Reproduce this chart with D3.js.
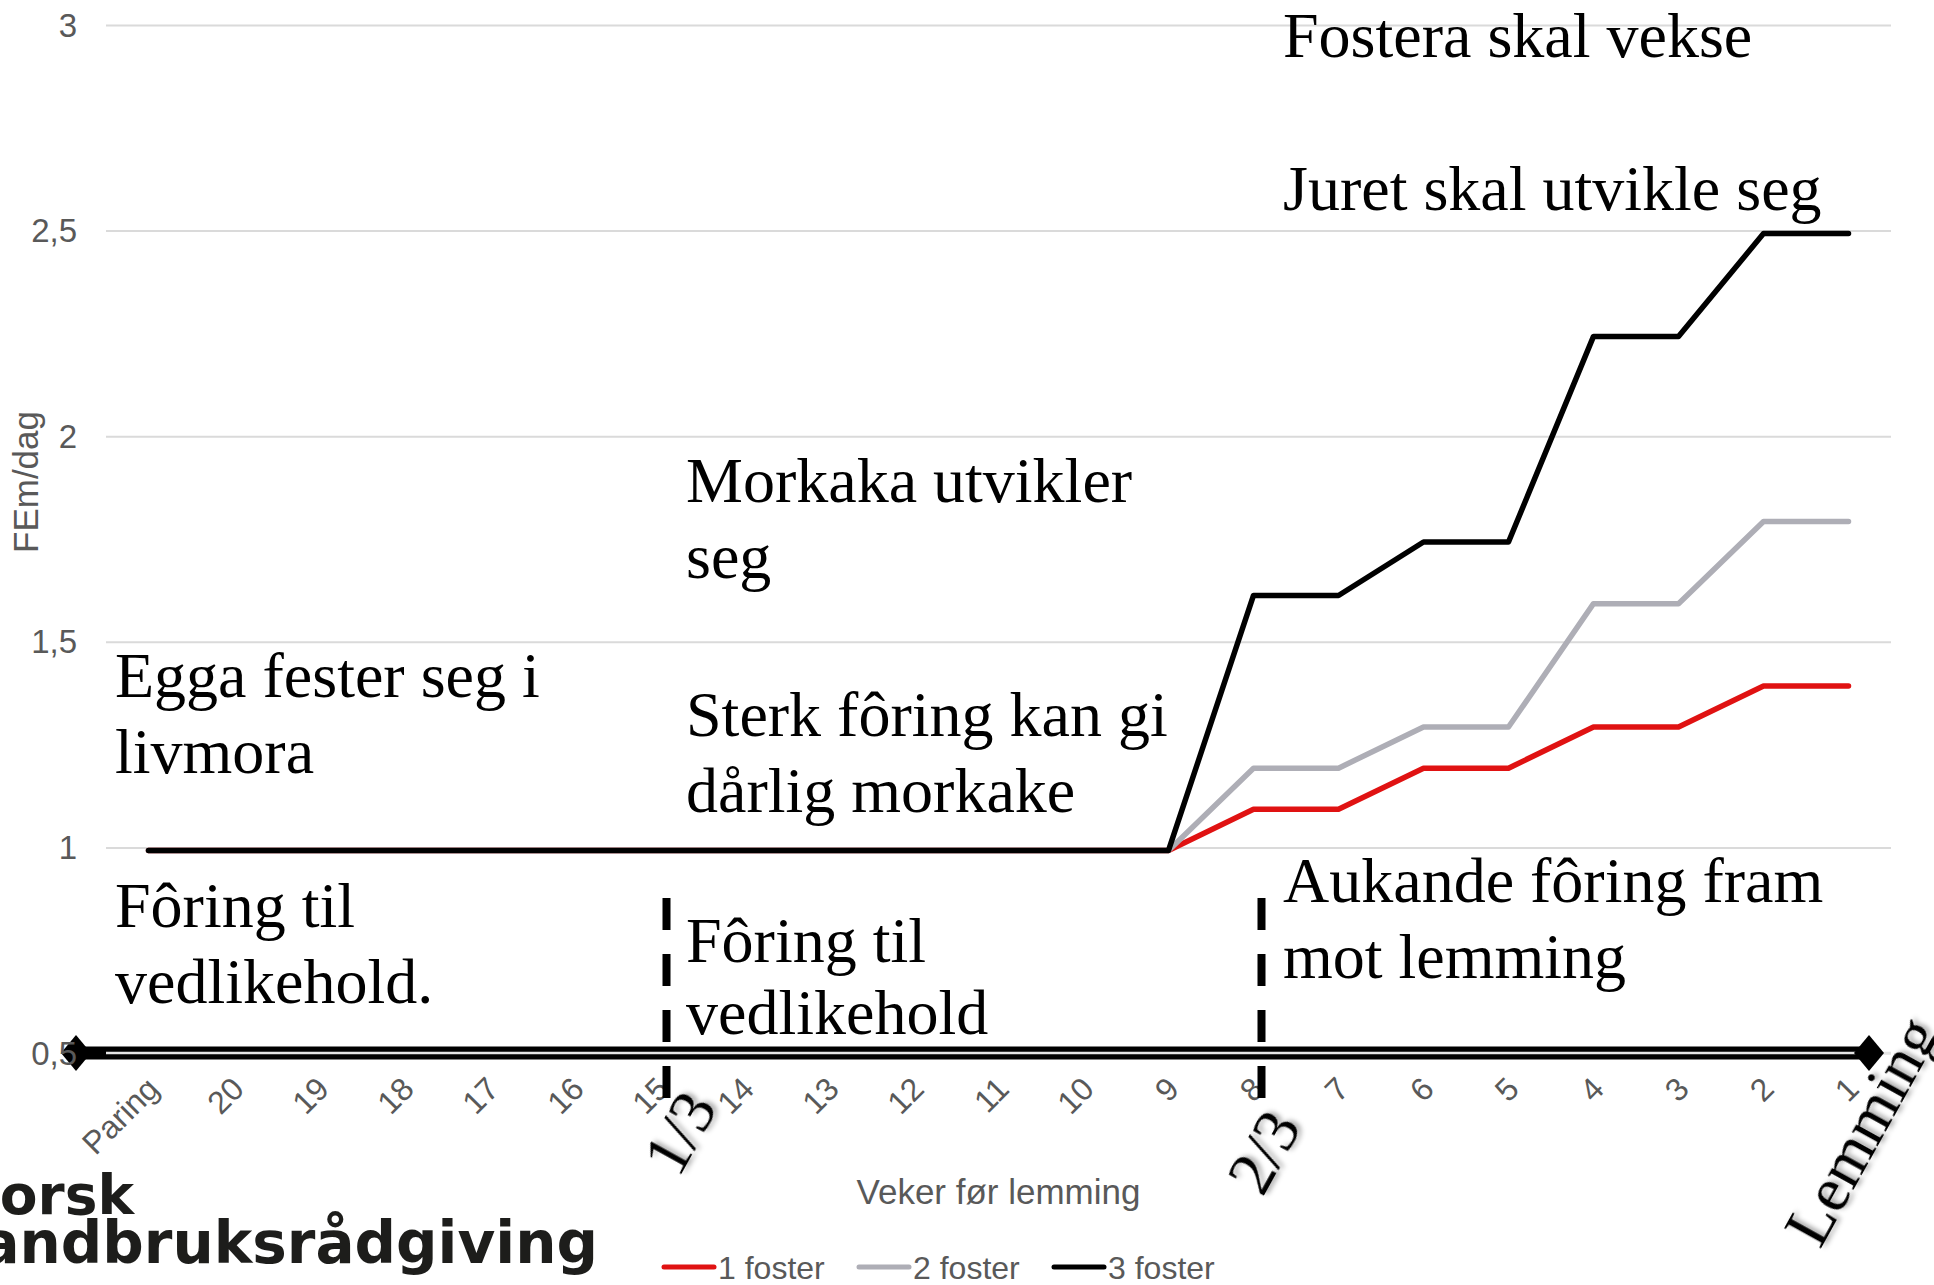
<!DOCTYPE html>
<html>
<head>
<meta charset="utf-8">
<script src="https://cdn.jsdelivr.net/npm/d3@7"></script>
<style>
  body { margin: 0; background: #fff; }
  svg { display: block; }
</style>
</head>
<body>
<svg id="chart" width="1934" height="1285"></svg>
<script>
// data
let weeks = ["Paring", "20", "19", "18", "17", "16", "15", "14", "13", "12", "11", "10", "9", "8", "7", "6", "5", "4", "3", "2", "1"];
let foster1 = [1, 1, 1, 1, 1, 1, 1, 1, 1, 1, 1, 1, 1, 1.1, 1.1, 1.2, 1.2, 1.3, 1.3, 1.4, 1.4];
let foster2 = [1, 1, 1, 1, 1, 1, 1, 1, 1, 1, 1, 1, 1, 1.2, 1.2, 1.3, 1.3, 1.6, 1.6, 1.8, 1.8];
let foster3 = [1, 1, 1, 1, 1, 1, 1, 1, 1, 1, 1, 1, 1, 1.62, 1.62, 1.75, 1.75, 2.25, 2.25, 2.5, 2.5];
let seriesNames = ["1 foster", "2 foster", "3 foster"];
let seriesColors = ["#e01212", "#aeaeb6", "#000000"];
let yTicks = [0.5, 1, 1.5, 2, 2.5, 3];

let svg = d3.select("#chart");

let plotLeft = 106, plotRight = 1891, plotTop = 25, plotBottom = 1053;

let x = d3.scalePoint().domain(weeks).range([plotLeft, plotRight]).padding(0.5);
let y = d3.scaleLinear().domain([0.5, 3]).range([plotBottom, plotTop]);

let defs = svg.append("defs");
defs.append("filter").attr("id", "shadow")
    .attr("x", "-20%").attr("y", "-20%").attr("width", "150%").attr("height", "150%")
    .append("feDropShadow")
    .attr("dx", 3).attr("dy", 3).attr("stdDeviation", 2.5)
    .attr("flood-color", "#000").attr("flood-opacity", 0.35);

// gridlines
let yAxis = svg.append("g")
    .attr("transform", `translate(${plotLeft},0)`)
    .call(d3.axisLeft(y).tickValues(yTicks).tickSize(-(plotRight - plotLeft)).tickPadding(29)
        .tickFormat(d => String(d).replace(".", ",")));
yAxis.select(".domain").remove();
yAxis.selectAll(".tick line").attr("stroke", "#dadada").attr("stroke-width", 2);
yAxis.selectAll(".tick text").remove();

// thick axis line with diamonds
let axisG = svg.append("g");
axisG.append("line")
    .attr("x1", 76).attr("x2", 1869)
    .attr("y1", y(0.5)).attr("y2", y(0.5))
    .attr("stroke", "#000").attr("stroke-width", 13);
axisG.append("line")
    .attr("x1", plotLeft).attr("x2", plotRight)
    .attr("y1", y(0.5)).attr("y2", y(0.5))
    .attr("stroke", "#e4e4e4").attr("stroke-width", 2.5);
[76, 1869].forEach(cx => {
    axisG.append("path")
        .attr("d", `M${cx - 15},${y(0.5)} L${cx},${y(0.5) - 18} L${cx + 15},${y(0.5)} L${cx},${y(0.5) + 18} Z`)
        .attr("fill", "#000");
});

// y tick labels
svg.append("g").selectAll("text")
    .data(yTicks)
    .join("text")
    .attr("x", plotLeft - 29)
    .attr("y", d => y(d))
    .attr("dy", "0.35em")
    .attr("text-anchor", "end")
    .attr("font-family", "Liberation Sans, Arial, sans-serif")
    .attr("font-size", 33)
    .attr("fill", "#595959")
    .text(d => String(d).replace(".", ","));

// x axis labels
let xAxis = svg.append("g")
    .attr("transform", `translate(0,${plotBottom})`)
    .call(d3.axisBottom(x).tickSize(0));
xAxis.select(".domain").remove();
xAxis.selectAll(".tick text")
    .attr("x", 0).attr("y", 0).attr("dy", "0.35em")
    .attr("transform", "translate(4,30) rotate(-45)")
    .attr("text-anchor", "end")
    .attr("font-family", "Liberation Sans, Arial, sans-serif")
    .attr("font-size", 32)
    .attr("fill", "#595959");

// axis titles
svg.append("text")
    .attr("transform", "translate(26,482) rotate(-90)")
    .attr("text-anchor", "middle")
    .attr("dy", "0.35em")
    .attr("font-family", "Liberation Sans, Arial, sans-serif")
    .attr("font-size", 35)
    .attr("fill", "#595959")
    .text("FEm/dag");

svg.append("text")
    .attr("x", (plotLeft + plotRight) / 2)
    .attr("y", 1204)
    .attr("text-anchor", "middle")
    .attr("font-family", "Liberation Sans, Arial, sans-serif")
    .attr("font-size", 35)
    .attr("fill", "#595959")
    .text("Veker før lemming");

// series lines
let line = d3.line()
    .x((d, i) => x(weeks[i]))
    .y(d => y(d));

let allSeries = [foster1, foster2, foster3];
svg.append("g")
    .attr("transform", "translate(0,3)")
    .selectAll("path")
    .data(allSeries)
    .join("path")
    .attr("d", d => line(d))
    .attr("fill", "none")
    .attr("stroke", (d, i) => seriesColors[i])
    .attr("stroke-width", 5.5)
    .attr("stroke-linejoin", "round")
    .attr("stroke-linecap", "round");

// legend
let legend = svg.append("g").attr("transform", "translate(662,1267)");
let item = legend.selectAll("g")
    .data(seriesNames)
    .join("g")
    .attr("transform", (d, i) => `translate(${i * 195},0)`);
item.append("line")
    .attr("x1", 2).attr("x2", 52)
    .attr("stroke", (d, i) => seriesColors[i])
    .attr("stroke-width", 5)
    .attr("stroke-linecap", "round");
item.append("text")
    .attr("x", 56)
    .attr("dy", "0.36em")
    .attr("font-family", "Liberation Sans, Arial, sans-serif")
    .attr("font-size", 32)
    .attr("fill", "#595959")
    .text(d => d);

// dashed phase markers
let phaseMarks = ["15", "8"];
svg.append("g").selectAll("line")
    .data(phaseMarks)
    .join("line")
    .attr("x1", d => x(d) + 8).attr("x2", d => x(d) + 8)
    .attr("y1", 898).attr("y2", 1100)
    .attr("stroke", "#000")
    .attr("stroke-width", 8)
    .attr("stroke-dasharray", "32 24");

// annotation text
let notes = [
    { x: 1283, y: 57, lines: ["Fostera skal vekse"] },
    { x: 1283, y: 210, lines: ["Juret skal utvikle seg"] },
    { x: 686, y: 502, lines: ["Morkaka utvikler", "seg"] },
    { x: 115, y: 697, lines: ["Egga fester seg i", "livmora"] },
    { x: 686, y: 736, lines: ["Sterk fôring kan gi", "dårlig morkake"] },
    { x: 115, y: 927, lines: ["Fôring til", "vedlikehold."] },
    { x: 686, y: 962, lines: ["Fôring til", "vedlikehold"], gap: 72 },
    { x: 1283, y: 902, lines: ["Aukande fôring fram", "mot lemming"] }
];
let noteG = svg.append("g")
    .attr("font-family", "Liberation Serif, Times New Roman, serif")
    .attr("font-size", 64)
    .attr("fill", "#000");
notes.forEach(n => {
    let t = noteG.append("text").attr("x", n.x).attr("y", n.y);
    n.lines.forEach((l, i) => {
        t.append("tspan").attr("x", n.x).attr("dy", i === 0 ? 0 : (n.gap || 76)).text(l);
    });
});

let rotated = [
    { x: 680, y: 1133, text: "1/3" },
    { x: 1264, y: 1152, text: "2/3" },
    { x: 1862, y: 1131, text: "Lemming" }
];
svg.append("g").selectAll("text")
    .data(rotated)
    .join("text")
    .attr("transform", d => `translate(${d.x},${d.y}) rotate(-61)`)
    .attr("text-anchor", "middle")
    .attr("dy", "0.33em")
    .attr("font-family", "Liberation Serif, Times New Roman, serif")
    .attr("font-size", 64)
    .attr("filter", "url(#shadow)")
    .text(d => d.text);

// cropped logo at bottom left
let logo = svg.append("g")
    .attr("font-family", "DejaVu Sans, sans-serif")
    .attr("font-weight", "bold")
    .attr("fill", "#1d1d1b")
    .attr("text-anchor", "end");
logo.append("text").attr("x", 134).attr("y", 1214).attr("font-size", 55).text("Norsk");
logo.append("text").attr("x", 598).attr("y", 1263).attr("font-size", 58).text("Landbruksrådgiving");
</script>
</body>
</html>
